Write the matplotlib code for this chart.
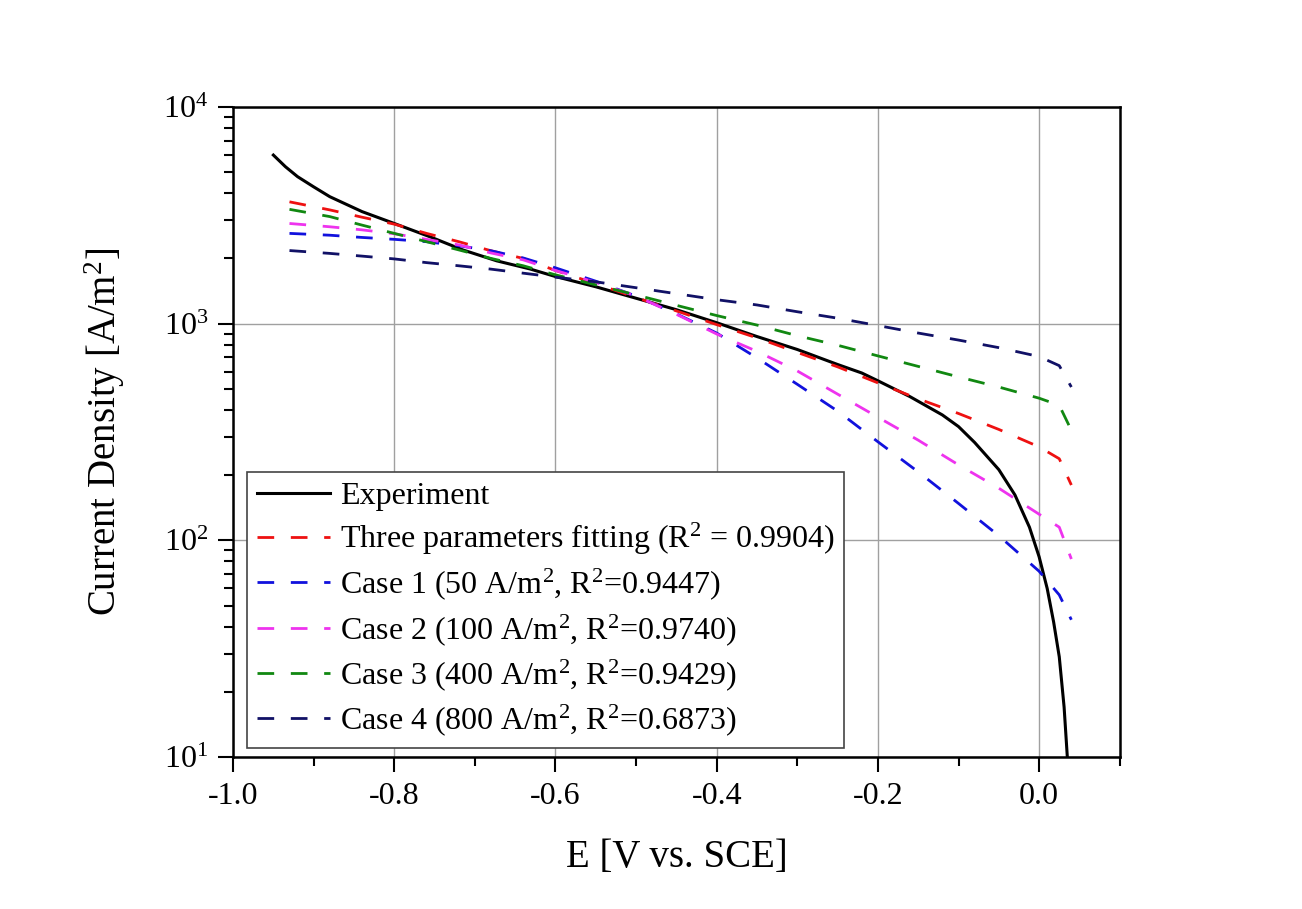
import numpy as np
import matplotlib.pyplot as plt
from matplotlib.ticker import MultipleLocator, LogLocator, NullFormatter

plt.rcParams['font.family'] = ['Liberation Serif', 'DejaVu Serif']
plt.rcParams['mathtext.fontset'] = 'custom'
plt.rcParams['mathtext.rm'] = 'Liberation Serif'
plt.rcParams['mathtext.it'] = 'Liberation Serif:italic'
plt.rcParams['axes.unicode_minus'] = False

# experiment
e_exp = [-0.95, -0.935, -0.92, -0.90, -0.88, -0.84, -0.80, -0.756, -0.715, -0.673,
         -0.632, -0.60, -0.55, -0.50, -0.45, -0.40, -0.35, -0.30, -0.25, -0.22,
         -0.20, -0.16, -0.12, -0.10, -0.08, -0.05, -0.03, -0.012, 0.0, 0.01,
         0.018, 0.025, 0.031, 0.035]
i_exp = [6000, 5300, 4770, 4280, 3855, 3290, 2900, 2520, 2190, 1950,
         1790, 1650, 1480, 1310, 1160, 1010, 872, 760, 648, 592,
         545, 460, 379, 335, 283, 212, 162, 115, 84, 60,
         42, 29, 17, 10]

# fitted curves
e_fit = [-0.93, -0.88, -0.84, -0.80, -0.76, -0.72, -0.68, -0.64, -0.60, -0.55,
         -0.50, -0.45, -0.40, -0.35, -0.30, -0.25, -0.20, -0.15, -0.10, -0.05,
         0.00, 0.025, 0.04]
i_three = [3650, 3350, 3100, 2880, 2610, 2390, 2170, 2000, 1760, 1530,
           1320, 1145, 990, 860, 737, 632, 533, 450, 385, 325,
           270, 238, 180]
i_case1 = [2610, 2560, 2500, 2450, 2390, 2290, 2170, 2010, 1810, 1570,
           1340, 1110, 905, 695, 525, 395, 285, 207, 148, 105,
           72, 56, 43]
i_case2 = [2900, 2800, 2710, 2600, 2450, 2310, 2120, 1970, 1760, 1550,
           1340, 1105, 896, 745, 605, 473, 370, 290, 223, 174,
           132, 115, 82]
i_case3 = [3370, 3120, 2850, 2610, 2390, 2190, 2000, 1850, 1680, 1510,
           1357, 1215, 1090, 985, 880, 795, 710, 635, 568, 510,
           453, 420, 322]
i_case4 = [2175, 2110, 2050, 1990, 1913, 1850, 1785, 1710, 1640, 1560,
           1465, 1375, 1290, 1220, 1135, 1060, 980, 905, 840, 775,
           705, 640, 510]

labels = ['Experiment',
          'Three parameters fitting (R$^2$ = 0.9904)',
          'Case 1 (50 A/m$^2$, R$^2$=0.9447)',
          'Case 2 (100 A/m$^2$, R$^2$=0.9740)',
          'Case 3 (400 A/m$^2$, R$^2$=0.9429)',
          'Case 4 (800 A/m$^2$, R$^2$=0.6873)']
colors = ['#ee1111', '#1111dd', '#ee33ee', '#118811', '#111166']

fig = plt.figure(figsize=(13.02, 9.09), dpi=100)
ax = fig.add_axes([0.179, 0.1672, 0.681, 0.7151])

ax.plot(e_exp, i_exp, color='black', lw=2.2, label=labels[0])
for ys, c, lab in zip([i_three, i_case1, i_case2, i_case3, i_case4], colors, labels[1:]):
    ax.plot(e_fit, ys, color=c, lw=2.0, linestyle=(0, (6, 6)), label=lab)

ax.set_yscale('log')
ax.set_xlim(-1.0, 0.1)
ax.set_ylim(10, 1e4)
ax.xaxis.set_major_locator(MultipleLocator(0.2))
ax.xaxis.set_minor_locator(MultipleLocator(0.1))
ax.yaxis.set_minor_locator(LogLocator(base=10, subs=np.arange(2, 10)))
ax.yaxis.set_minor_formatter(NullFormatter())
ax.xaxis.set_major_formatter(plt.FuncFormatter(lambda v, p: f'{v:.1f}'.replace('-0.0', '0.0')))

ax.tick_params(which='major', direction='out', length=11, width=1.5, labelsize=23, pad=7)
ax.tick_params(which='minor', direction='out', length=6.5, width=1.5)
for sp in ax.spines.values():
    sp.set_linewidth(1.8)

ax.grid(True, which='major', color='#a0a0a0', lw=1.0)
ax.set_axisbelow(True)

ax.set_xlabel('E [V vs. SCE]', fontsize=28, labelpad=20)
ax.set_ylabel('Current Density [A/m$^2$]', fontsize=28, labelpad=26)

leg = ax.legend(loc='lower left', bbox_to_anchor=(0.0158, 0.0138), borderaxespad=0,
                fontsize=23, handlelength=2.3, handletextpad=0.3, labelspacing=0.3,
                fancybox=False, framealpha=1, edgecolor='#444444', borderpad=0.3)
leg.get_frame().set_linewidth(1.2)

fig.savefig('out.png', dpi=100)
